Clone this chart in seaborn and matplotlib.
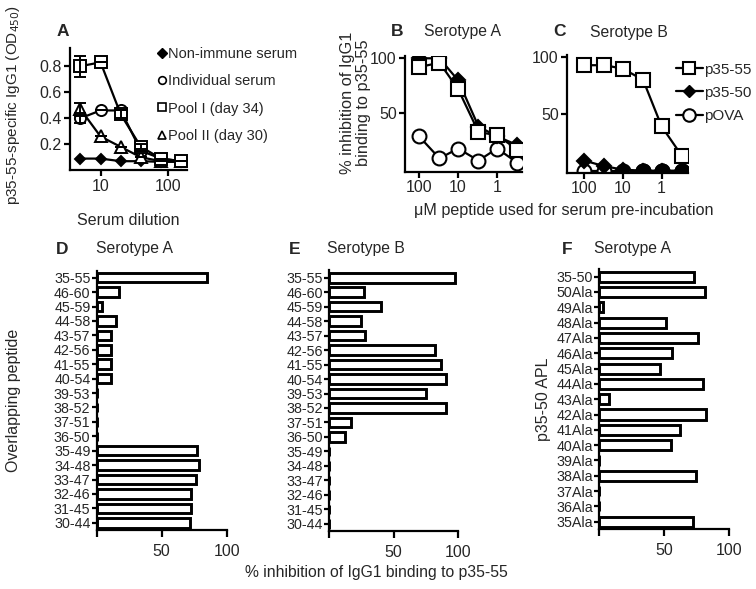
import numpy as np
import pandas as pd
import matplotlib
matplotlib.use("Agg")
import matplotlib.pyplot as plt
from matplotlib.lines import Line2D
import seaborn as sns

sns.set_theme(style="ticks")
plt.rcParams['font.family'] = ['Liberation Sans', 'DejaVu Sans']

# ---------------- data ----------------
# Panel A
dilution = [5, 10, 20, 40, 80, 160]
nonimmune = [0.09, 0.09, 0.07, 0.07, 0.065, 0.065]
individual = [0.40, 0.46, 0.46, 0.15, 0.09, 0.07]
individual_err = [0.04, 0, 0, 0, 0, 0]
pool1 = [0.80, 0.83, 0.43, 0.18, 0.09, 0.07]
pool1_err = [0.08, 0, 0.03, 0.02, 0, 0]
pool2 = [0.47, 0.26, 0.18, 0.10, 0.07, 0.07]
pool2_err = [0.05, 0, 0, 0, 0, 0]
legendA_labels = ["Non-immune serum", "Individual serum", "Pool I (day 34)", "Pool II (day 30)"]

# Panels B and C (uM peptide)
conc = [100, 30, 10, 3, 1, 0.3]
B_p3555 = [92, 96, 72, 33, 30, 17]
B_p3550 = [100, 100, 80, 38, 29, 21]
B_pova = [29, 9, 18, 7, 18, 5]
C_p3555 = [93, 93, 90, 80, 39, 13]
C_p3550 = [9, 4, 1, 0, 0, 0]
C_pova = [0, 0, 0, 0, 0, 0]
legendC_labels = ["p35-55", "p35-50", "pOVA"]

# Panels D and E (overlapping peptides)
peptides = ["35-55", "46-60", "45-59", "44-58", "43-57", "42-56", "41-55", "40-54",
            "39-53", "38-52", "37-51", "36-50", "35-49", "34-48", "33-47", "32-46",
            "31-45", "30-44"]
D_values = [85, 17, 4, 15, 11, 11, 11, 11, 0, 0, 0, 0, 77, 79, 76, 72.5, 72.5, 72]
E_values = [98, 27, 40, 24.5, 27.5, 82, 87, 91, 75.5, 91, 17, 12.5, 0, 0, 0, 0, 0, 0]

# Panel F (APL)
apl = ["35-50", "50Ala", "49Ala", "48Ala", "47Ala", "46Ala", "45Ala", "44Ala", "43Ala",
       "42Ala", "41Ala", "40Ala", "39Ala", "38Ala", "37Ala", "36Ala", "35Ala"]
F_values = [73, 81, 2.5, 51, 76, 56, 47, 80, 7.5, 82, 62, 55, 0, 74, 0, 0, 72]

# ---------------- layout ----------------
W, H = 756, 589
fig = plt.figure(figsize=(W / 100, H / 100), dpi=100)


def rect(left, right, top, bottom):
    return [left / W, 1 - bottom / H, (right - left) / W, (bottom - top) / H]


LW = 1.6


def style(ax):
    sns.despine(ax=ax)
    for s in ("left", "bottom"):
        ax.spines[s].set_linewidth(LW)
        ax.spines[s].set_color("black")
    ax.tick_params(axis="both", which="major", length=4, width=LW, color="black",
                   labelsize=11, pad=2)
    ax.tick_params(axis="both", which="minor", length=0)
    ax.set_facecolor("white")


# ---------------- Panel A ----------------
axA = fig.add_axes(rect(70, 187, 48, 170.3))
style(axA)
kw = dict(color="black", linewidth=1.6, markeredgecolor="black", markeredgewidth=1.4)
sns.lineplot(x=dilution, y=nonimmune, marker="D", markersize=5.5, markerfacecolor="black", ax=axA, **kw)
sns.lineplot(x=dilution, y=individual, marker="o", markersize=8, markerfacecolor="white", ax=axA, **kw)
sns.lineplot(x=dilution, y=pool2, marker="^", markersize=8.5, markerfacecolor="white", ax=axA, **kw)
sns.lineplot(x=dilution, y=pool1, marker="s", markersize=8, markerfacecolor="white", ax=axA, **kw)
for yv, ye in ((individual, individual_err), (pool1, pool1_err), (pool2, pool2_err)):
    axA.errorbar(dilution, yv, yerr=ye, fmt="none", ecolor="black", elinewidth=1.4, capsize=4, capthick=1.4)
axA.set_xscale("log")
axA.set_xlim(3.5, 195)
axA.set_ylim(0, 0.94)
axA.set_xticks([10, 100])
axA.set_xticklabels(["10", "100"])
axA.set_yticks([0.2, 0.4, 0.6, 0.8])
axA.set_yticklabels(["0.2", "0.4", "0.6", "0.8"])
axA.tick_params(labelsize=11.5)
axA.set_xlabel("Serum dilution", fontsize=11.5, labelpad=14)
axA.set_ylabel("p35-55-specific IgG1 (OD$_{450}$)", fontsize=11)
axA.yaxis.set_label_coords((22 - 70) / 117, (170.3 - 105) / 122.3)
hA = [Line2D([], [], ls="none", marker="D", ms=5, mfc="black", mec="black"),
      Line2D([], [], ls="none", marker="o", ms=5.5, mfc="white", mec="black", mew=1.2),
      Line2D([], [], ls="none", marker="s", ms=6, mfc="white", mec="black", mew=1.2),
      Line2D([], [], ls="none", marker="^", ms=6, mfc="white", mec="black", mew=1.2)]
axA.legend(hA, legendA_labels, loc="upper left", bbox_to_anchor=(150 / W, 1 - 40 / H),
           bbox_transform=fig.transFigure, frameon=False, handlelength=0.6,
           handletextpad=0.15, labelspacing=0.9, borderpad=0, fontsize=10.5)
fig.text(62.5 / W, 1 - 31.7 / H, "A", fontsize=12.5, fontweight="bold", ha="center", va="center")

# ---------------- Panel B ----------------
axB = fig.add_axes(rect(405, 522, 56.1, 171.6))
style(axB)
kwb = dict(color="black", linewidth=1.6, markeredgecolor="black", markeredgewidth=1.5)
sns.lineplot(x=conc, y=B_pova, marker="o", markersize=10, markerfacecolor="white", ax=axB, **kwb)
sns.lineplot(x=conc, y=B_p3550, marker="D", markersize=7, markerfacecolor="black", ax=axB, **kwb)
sns.lineplot(x=conc, y=B_p3555, marker="s", markersize=9.5, markerfacecolor="white", ax=axB, **kwb)
axB.set_xscale("log")
axB.set_xlim(230, 0.23)
axB.set_ylim(-3, 102)
axB.set_xticks([100, 10, 1])
axB.set_xticklabels(["100", "10", "1"])
axB.set_yticks([50, 100])
axB.set_yticklabels(["50", "100"])
axB.tick_params(labelsize=11.5)
axB.set_ylabel("% inhibition of IgG1\nbinding to p35-55", fontsize=11.8, linespacing=1.1)
axB.yaxis.set_label_coords((371 - 405) / 117, (171.6 - 103) / 115.5)
fig.text(397.5 / W, 1 - 31.7 / H, "B", fontsize=12.5, fontweight="bold", ha="center", va="center")
fig.text(463 / W, 1 - 31.7 / H, "Serotype A", fontsize=11.3, ha="center", va="center")

# ---------------- Panel C ----------------
axC = fig.add_axes(rect(567, 688, 55, 173))
style(axC)
sns.lineplot(x=conc, y=C_pova, marker="o", markersize=10, markerfacecolor="white", ax=axC, **kwb)
sns.lineplot(x=conc, y=C_p3550, marker="D", markersize=7, markerfacecolor="black", ax=axC, **kwb)
sns.scatterplot(x=conc[3:], y=C_pova[3:], marker="o", s=105, color="black", edgecolor="black",
                linewidth=1.4, ax=axC, zorder=5)
sns.lineplot(x=conc, y=C_p3555, marker="s", markersize=9.5, markerfacecolor="white", ax=axC, **kwb)
axC.set_xscale("log")
axC.set_xlim(273, 0.21)
axC.set_ylim(-2, 102)
axC.set_xticks([100, 10, 1])
axC.set_xticklabels(["100", "10", "1"])
axC.set_yticks([50, 100])
axC.set_yticklabels(["50", "100"])
axC.tick_params(labelsize=11.5)
axC.set_xlabel("")
axC.set_ylabel("")
hC = [Line2D([], [], color="black", lw=1.6, marker="s", ms=9, mfc="white", mec="black", mew=1.5),
      Line2D([], [], color="black", lw=1.6, marker="D", ms=6.5, mfc="black", mec="black"),
      Line2D([], [], color="black", lw=1.6, marker="o", ms=9, mfc="white", mec="black", mew=1.5)]
axC.legend(hC, legendC_labels, loc="upper left", bbox_to_anchor=(668 / W, 1 - 55 / H),
           bbox_transform=fig.transFigure, frameon=False, handlelength=1.8,
           handletextpad=0.05, labelspacing=0.6, borderpad=0, fontsize=11)
fig.text(559.5 / W, 1 - 32 / H, "C", fontsize=12.5, fontweight="bold", ha="center", va="center")
fig.text(629 / W, 1 - 32 / H, "Serotype B", fontsize=11.3, ha="center", va="center")
fig.text(564 / W, 1 - 211 / H, "\u03bcM peptide used for serum pre-incubation", fontsize=11.6,
         ha="center", va="center")

# ---------------- Bar panels ----------------


def bar_panel(r, cats, vals, ylabel=None):
    ax = fig.add_axes(r)
    df = pd.DataFrame({"cat": cats, "val": vals})
    sns.barplot(data=df, x="val", y="cat", orient="h", color="white", edgecolor="black",
                linewidth=2.1, width=0.66, ax=ax)
    style(ax)
    ax.set_xlim(0, 100)
    ax.set_ylim(len(cats) - 0.5, -0.5)
    ax.set_xticks([0, 50, 100])
    ax.set_xticklabels(["", "50", "100"])
    ax.tick_params(axis="x", length=5, labelsize=11.5, pad=5)
    ax.tick_params(axis="y", length=3.5, labelsize=10.3, pad=1)
    ax.set_xlabel("")
    ax.set_ylabel(ylabel if ylabel else "", fontsize=11.5)
    return ax


axD = bar_panel(rect(96.7, 226.7, 270.5, 530), peptides, D_values, "Overlapping peptide")
axD.yaxis.set_label_coords((21 - 96.7) / 130, 0.5)
axE = bar_panel(rect(329.3, 458, 270.5, 531), peptides, E_values)
axF = bar_panel(rect(599.3, 729.3, 269, 529.4), apl, F_values, "p35-50 APL")
axF.yaxis.set_label_coords((551 - 599.3) / 130, 0.5)

fig.text(62.5 / W, 1 - 249 / H, "D", fontsize=12.5, fontweight="bold", ha="center", va="center")
fig.text(135 / W, 1 - 249 / H, "Serotype A", fontsize=11.3, ha="center", va="center")
fig.text(294.5 / W, 1 - 249 / H, "E", fontsize=12.5, fontweight="bold", ha="center", va="center")
fig.text(366 / W, 1 - 249 / H, "Serotype B", fontsize=11.3, ha="center", va="center")
fig.text(567.5 / W, 1 - 249 / H, "F", fontsize=12.5, fontweight="bold", ha="center", va="center")
fig.text(633 / W, 1 - 249 / H, "Serotype A", fontsize=11.3, ha="center", va="center")
fig.text(376 / W, 1 - 572 / H, "% inhibition of IgG1 binding to p35-55", fontsize=11.3,
         ha="center", va="center")

fig.savefig("out.png", dpi=100, facecolor="white")
